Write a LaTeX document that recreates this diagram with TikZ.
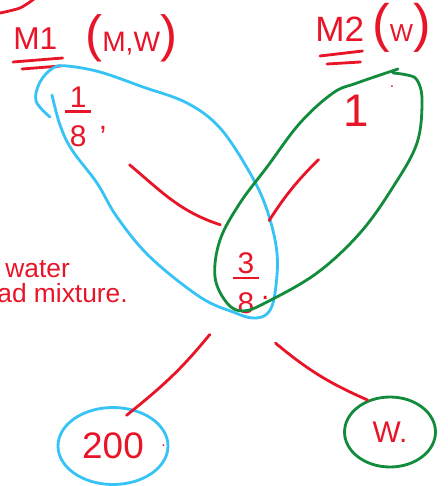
\documentclass[tikz,border=0pt]{standalone}
\usepackage{fontspec}
\setmainfont{Liberation Sans}
\usepackage{amsmath}
\usetikzlibrary{shapes.geometric}
\definecolor{inkred}{RGB}{232,20,40}
\definecolor{inkblue}{RGB}{55,195,245}
\definecolor{inkgreen}{RGB}{18,140,60}
\newcommand\fs[1]{\fontsize{#1}{#1}\selectfont}
\newcommand\hfrac[2]{$\genfrac{}{}{1.4pt}{1}{\makebox[15pt]{#1}}{\makebox[15pt]{\rule{0pt}{18pt}#2}}$}

\begin{document}
\begin{tikzpicture}[x=0.02cm,y=-0.02cm,line cap=round,line join=round,
 ln/.style={draw=inkred,line width=1.6pt},
 lp/.style={draw=inkblue,line width=1.6pt},
 lg/.style={draw=inkgreen,line width=1.6pt},
 tx/.style={text=inkred,inner sep=0pt},
 fr/.style={tx,circle,minimum size=2.6cm,font=\fs{17}},
 bub/.style={ellipse,line width=1.6pt,inner sep=0pt,text=inkred}]
\useasboundingbox (0,0) rectangle (447,486);
% headings
\node[tx,anchor=base west,font=\fs{18}] (m1) at (13,50) {M1};
\node[tx,anchor=base west,font=\fs{16}] (m1set) at (85,52) {{\fs{29}(}M,W{\fs{29})}};
\node[tx,anchor=base west,font=\fs{20}] (m2) at (315,42) {M2};
\node[tx,anchor=base west,font=\fs{14}] (m2set) at (372,42) {{\fs{30}(}W{\fs{30})}};
\draw[ln] ([shift={(0,12)}]m1.base west) -- ([shift={(5,8)}]m1.base east);
\draw[ln] ([shift={(9,19)}]m1.base west) -- ([shift={(3,16)}]m1.base east);
\draw[ln] ([shift={(5,14)}]m2.base west) -- ([shift={(-2,9)}]m2.base east);
\draw[ln] ([shift={(12,22)}]m2.base west) -- ([shift={(-4,20)}]m2.base east);
\draw[ln] plot[smooth] coordinates {(0,13) (20,8) (34,-1)};
% fractions
\node[fr] (n18) at (85,117) {\hfrac{1}{8}\hspace{3pt}\raisebox{-6pt}[0pt][0pt]{,}};
\node[fr] (n38) at (250,283) {\hfrac{3}{8}\raisebox{-8pt}[0pt][0pt]{.}};
\node[fr,font=\fs{26}] (n1) at (356,106) {1\rlap{\hspace{12pt}\raisebox{22pt}{\fs{9}.}}};
% groups
\draw[lp] plot[smooth,tension=0.6] coordinates {(50,117) (36,101) (40,82) (53,68) (67,66)
 (100,72) (143,87) (187,103) (220,128) (250,173) (267,210) (277,253) (275,293) (268,313)
 (253,318) (233,312) (200,297) (150,257) (117,217) (97,183) (72,150) (60,125) (52,95)};
\draw[lg] plot[smooth,tension=0.6] coordinates {(398,69) (357,83) (333,93) (300,123)
 (267,167) (240,203) (220,240) (215,277) (227,303) (243,311) (267,302) (317,273)
 (360,233) (393,187) (417,143) (422,100) (417,80) (407,75) (393,73)};
% note
\node[tx,anchor=base west,font=\fs{15}] (w1) at (5,277) {water};
\node[tx,anchor=base west,font=\fs{15}] (w2) at (-3,302) {ad mixture.};
% results
\node[bub,draw=inkblue,minimum width=2.2cm,minimum height=1.54cm,font=\fs{21}] (n200) at (113,446)
 {200\rlap{\hspace{10pt}\raisebox{7pt}{\fs{9}.}}};
\node[bub,draw=inkgreen,minimum width=1.82cm,minimum height=1.4cm,font=\fs{17}] (nw) at (390,432) {W.};
% links
\draw[ln] (n18.-47) to[out=-40,in=162] (n38.117);
\draw[ln] (n1.235) to[bend right=6] (n38.73);
\draw[ln,shorten >=-0.2cm] (n38.232) to[bend left=6] (n200.60);
\draw[ln] (n38.293) to[bend right=8] (nw.125);
\end{tikzpicture}
\end{document}
